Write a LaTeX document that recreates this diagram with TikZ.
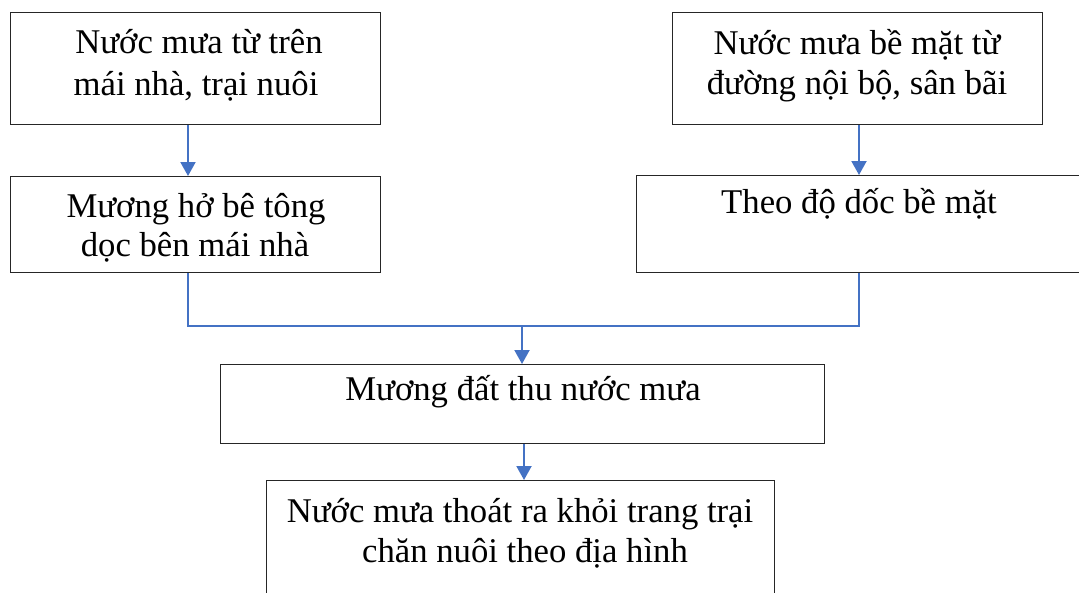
\documentclass[tikz,border=0pt]{standalone}
\usepackage{fontspec}
\setmainfont{Liberation Serif}
\usetikzlibrary{arrows.meta}
\definecolor{wordblue}{RGB}{68,114,196}
\tikzset{
  box/.style={draw=black!85, line width=1.4pt, inner sep=0pt, anchor=north west},
  txt/.style={anchor=base, inner sep=0pt, font=\fontsize{34.7}{40}\selectfont},
  conn/.style={draw=wordblue, line width=2pt},
  arr/.style={conn, -{Triangle[width=15pt,length=14pt]}},
}
\begin{document}
\begin{tikzpicture}[x=1pt,y=-1pt]
\useasboundingbox (0,0) rectangle (1079,592);
% boxes
\node[box, minimum width=370pt, minimum height=112pt] (b1) at (10,12) {};
\node[box, minimum width=370pt, minimum height=112pt] (b2) at (672,12) {};
\node[box, minimum width=370pt, minimum height=96pt] (b3) at (10,176) {};
\node[box, minimum width=446pt, minimum height=97pt] (b4) at (636,175) {};
\node[box, minimum width=604pt, minimum height=79pt] (b5) at (220,364) {};
\node[box, minimum width=508pt, minimum height=130pt] (b6) at (266,480) {};
% texts
\node[txt] (t1a) at (199,53) {Nước mưa từ trên};
\node[txt] (t1b) at (196,95) {mái nhà, trại nuôi};
\node[txt] (t2a) at (857,54) {Nước mưa bề mặt từ};
\node[txt] (t2b) at (857,94) {đường nội bộ, sân bãi};
\node[txt] (t3a) at (196,217) {Mương hở bê tông};
\node[txt] (t3b) at (195,256) {dọc bên mái nhà};
\node[txt] (t4) at (859,213) {Theo độ dốc bề mặt};
\node[txt] (t5) at (523,400) {Mương đất thu nước mưa};
\node[txt] (t6a) at (520,522) {Nước mưa thoát ra khỏi trang trại};
\node[txt] (t6b) at (525,562) {chăn nuôi theo địa hình};
% connectors
\coordinate (xl) at (188,0);
\coordinate (xr) at (859,0);
\coordinate (j) at (522,326);
\coordinate (xc) at (524,0);
\draw[arr] (b1.south -| xl) -- (b3.north -| xl);
\draw[arr] (b2.south -| xr) -- (b4.north -| xr);
\draw[conn] (b3.south -| xl) |- (j) -| (b4.south -| xr);
\draw[arr] (j) -- (b5.north -| j);
\draw[arr] (b5.south -| xc) -- (b6.north -| xc);
\end{tikzpicture}
\end{document}
